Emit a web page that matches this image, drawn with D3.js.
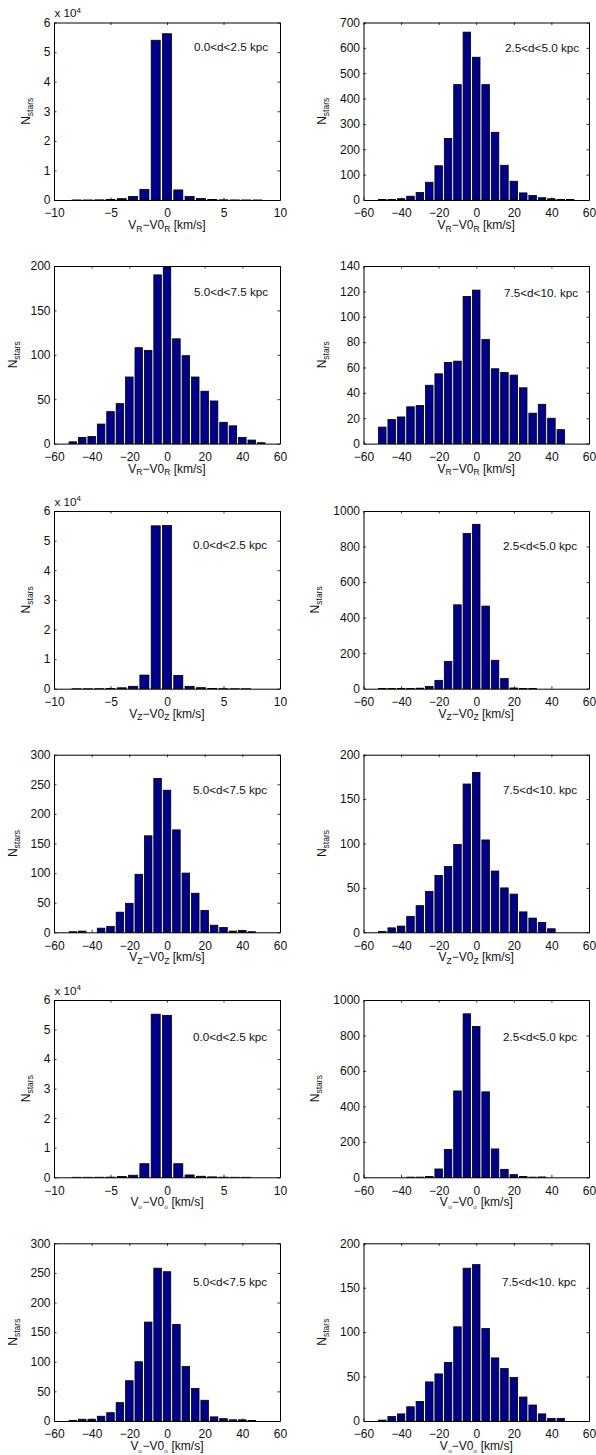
<!DOCTYPE html>
<html><head><meta charset="utf-8">
<script src="https://cdn.jsdelivr.net/npm/d3@7"></script>
<style>
html,body{margin:0;padding:0;background:#fff}
svg{display:block}
text{font-family:"Liberation Sans",Arial,sans-serif;fill:#111}
.tick text{font-size:12px}
</style></head><body>
<svg id="c" width="596" height="1455"></svg>
<script>
// ---- data ----
const binsNear = d3.range(-10, 11);
const binsFar = d3.range(-50, 55, 5);
const rangeLabels = ["0.0<d<2.5 kpc", "2.5<d<5.0 kpc", "5.0<d<7.5 kpc", "7.5<d<10. kpc"];
const components = ["R", "Z", "\u2299"];

const vrNear = [0,0,20,20,50,150,450,1200,3600,54000,56200,3400,1200,500,200,60,30,20,10,0,0];
const vrMid  = [2,2,5,15,30,70,135,243,455,662,563,455,267,137,74,28,18,9,5,2,2];
const vrOut  = [2,7,8,22,36,45,75,108,105,190,199,118,99,75,59,48,24,20,7,4,1];
const vrFar  = [13,19,21,29,30,46,55,64,65,116,121,82,59,56,54,44,24,31,20,11,0];

const vzNear = [0,0,5,10,20,100,300,800,4600,55000,55100,4500,800,350,100,30,10,5,0,0,0];
const vzMid  = [1,1,1,1,3,12,47,153,472,873,925,465,160,57,4,1,1,0,0,0,0];
const vzOut  = [1,2,0,7,10,34,49,98,163,260,240,173,100,66,37,12,8,2,3,1,0];
const vzFar  = [1,5,7,18,30,46,64,74,99,167,180,104,69,50,43,23,16,11,4,0,0];

const voNear = [0,0,5,10,30,60,250,700,4600,55200,54800,4600,800,350,150,50,10,5,0,0,0];
const voMid  = [0,0,0,1,1,4,47,157,487,922,850,482,160,45,15,5,1,2,0,0,0];
const voOut  = [1,3,3,8,14,31,68,100,167,258,252,163,92,55,35,7,4,2,2,1,0];
const voFar  = [1,5,8,16,22,44,53,66,106,172,176,104,71,59,49,27,18,8,3,3,0];

const yTickSets = {
  t60k:[0,10000,20000,30000,40000,50000,60000],
  t700:d3.range(0,800,100), t200:d3.range(0,250,50), t140:d3.range(0,160,20),
  t1000:d3.range(0,1200,200), t300:d3.range(0,350,50)
};

// ---- layout ----
const colX = [[54,280],[363.5,589]];
const rowY = [[22.5,200],[266,443.6],[511,688.7],[754.7,932.3],[1000,1177.3],[1243.3,1421]];
const panels = [
 {r:0,c:0,v:vrNear,comp:0,lab:0,ymax:60000,yt:yTickSets.t60k,tx:194,ty:47,nx:26},
 {r:0,c:1,v:vrMid,comp:0,lab:1,ymax:700,yt:yTickSets.t700,tx:505,ty:48,nx:322},
 {r:1,c:0,v:vrOut,comp:0,lab:2,ymax:200,yt:yTickSets.t200,tx:194,ty:292,nx:13},
 {r:1,c:1,v:vrFar,comp:0,lab:3,ymax:140,yt:yTickSets.t140,tx:504,ty:293,nx:322},
 {r:2,c:0,v:vzNear,comp:1,lab:0,ymax:60000,yt:yTickSets.t60k,tx:193,ty:545,nx:26},
 {r:2,c:1,v:vzMid,comp:1,lab:1,ymax:1000,yt:yTickSets.t1000,tx:503,ty:546,nx:315},
 {r:3,c:0,v:vzOut,comp:1,lab:2,ymax:300,yt:yTickSets.t300,tx:193,ty:790,nx:13},
 {r:3,c:1,v:vzFar,comp:1,lab:3,ymax:200,yt:yTickSets.t200,tx:503,ty:790,nx:322},
 {r:4,c:0,v:voNear,comp:2,lab:0,ymax:60000,yt:yTickSets.t60k,tx:193,ty:1037,nx:26},
 {r:4,c:1,v:voMid,comp:2,lab:1,ymax:1000,yt:yTickSets.t1000,tx:503,ty:1037,nx:315},
 {r:5,c:0,v:voOut,comp:2,lab:2,ymax:300,yt:yTickSets.t300,tx:193,ty:1282,nx:13},
 {r:5,c:1,v:voFar,comp:2,lab:3,ymax:200,yt:yTickSets.t200,tx:502,ty:1282,nx:322}
];

const svg = d3.select("#c");
panels.forEach(p=>{
  const near = p.ymax===60000;
  const bins = near?binsNear:binsFar;
  const [x0,x1]=colX[p.c], [y0,y1]=rowY[p.r];
  const x = d3.scaleLinear().domain(near?[-10,10]:[-60,60]).range([x0,x1]);
  const y = d3.scaleLinear().domain([0,p.ymax]).range([y1,y0]);
  const step = near?1:5;
  const bw = x(step)-x(0);
  const g = svg.append("g");

  g.selectAll("rect.bar").data(p.v).join("rect").attr("class","bar")
    .attr("x",(d,i)=>x(bins[i])-bw*0.4)
    .attr("width",bw*0.8)
    .attr("y",d=>y(d))
    .attr("height",d=>y1-y(d))
    .attr("fill","#00008f").attr("stroke","#000").attr("stroke-width",0.8);

  const xt = near?[-10,-5,0,5,10]:[-60,-40,-20,0,20,40,60];
  const yf = near ? (d=>d/10000) : (d=>d);
  const style = a=>{a.selectAll("path,line").attr("stroke","#000").attr("stroke-width",0.8);
                    a.select(".domain").attr("stroke-width",1);};
  g.append("g").attr("transform",`translate(0,${y1})`)
    .call(d3.axisBottom(x).tickValues(xt).tickSizeInner(-2.5).tickSizeOuter(0).tickPadding(8.9)).call(style);
  g.append("g").attr("transform",`translate(0,${y0})`)
    .call(d3.axisTop(x).tickValues(xt).tickSizeInner(-2.5).tickSizeOuter(0).tickFormat("")).call(style);
  g.append("g").attr("transform",`translate(${x0},0)`)
    .call(d3.axisLeft(y).tickValues(p.yt).tickSizeInner(-2.5).tickSizeOuter(0).tickPadding(3.5).tickFormat(yf)).call(style);
  g.append("g").attr("transform",`translate(${x1},0)`)
    .call(d3.axisRight(y).tickValues(p.yt).tickSizeInner(-2.5).tickSizeOuter(0).tickFormat("")).call(style);

  // annotation
  g.append("text").attr("x",p.tx).attr("y",p.ty+4.2).attr("font-size",11.7).text(rangeLabels[p.lab]);

  // x label
  const sub = components[p.comp];
  const subSize = p.comp===2 ? 5 : 8.5;
  const xl = g.append("text").attr("x",(x0+x1)/2).attr("y",y1+29).attr("text-anchor","middle").attr("font-size",12);
  xl.append("tspan").text("V");
  xl.append("tspan").attr("font-size",subSize).attr("dy",2.5).text(sub);
  xl.append("tspan").attr("dy",-2.5).text("\u2212V0");
  xl.append("tspan").attr("font-size",subSize).attr("dy",2.5).text(sub);
  xl.append("tspan").attr("dy",-2.5).text(" [km/s]");

  // y label
  const yl = g.append("text").attr("transform",`translate(${p.nx+4},${(y0+y1)/2}) rotate(-90)`)
    .attr("text-anchor","middle").attr("font-size",12);
  yl.append("tspan").text("N");
  yl.append("tspan").attr("font-size",8.5).attr("dy",3).text("stars");

  // multiplier
  if(near){
    const m = g.append("text").attr("x",x0+0.5).attr("y",y0-5.5).attr("font-size",11.7);
    m.append("tspan").text("x 10");
    m.append("tspan").attr("font-size",8).attr("dy",-4.5).text("4");
  }
});
</script>
</body></html>
